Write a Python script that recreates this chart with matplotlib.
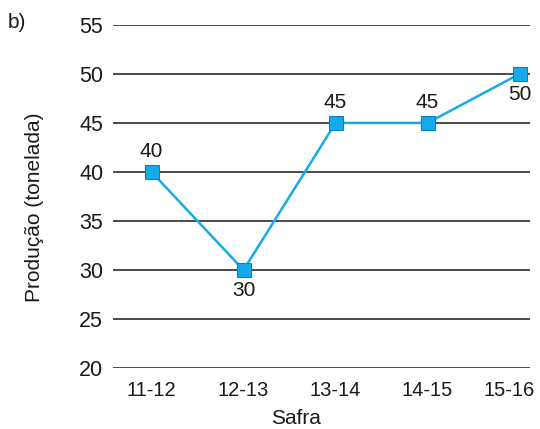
import matplotlib.pyplot as plt
import matplotlib.transforms as mtransforms

plt.rcParams["font.family"] = ["Liberation Sans", "DejaVu Sans"]

safras = ["11-12", "12-13", "13-14", "14-15", "15-16"]
producao = [40, 30, 45, 45, 50]
label_above = [True, False, True, True, False]
y_ticks = [20, 25, 30, 35, 40, 45, 50, 55]

LINE_COLOR = "#17ace6"
EDGE_COLOR = "#0a7fc2"
TEXT = "#1a1a1a"

fig = plt.figure(figsize=(5.4, 4.29), dpi=100)
ax = fig.add_axes([0.209, 0.142, 0.772, 0.800])

for y in y_ticks:
    ax.axhline(y, color=TEXT, linewidth=1.1, zorder=1)

x = list(range(len(safras)))
ax.plot(x, producao, color=LINE_COLOR, linewidth=1.8, marker="s", markersize=10,
        markerfacecolor="#14aaec", markeredgecolor=EDGE_COLOR, markeredgewidth=0.8, zorder=3)

for xi, val, above in zip(x, producao, label_above):
    offset = 15 if above else -15
    ax.annotate(str(val), (xi, val), xytext=(0, offset), textcoords="offset points",
                ha="center", va="center", fontsize=15, color=TEXT)

ax.set_xlim(-0.42, 4.11)
ax.set_ylim(20, 55)
ax.set_xticks(x)
ax.set_xticklabels(safras)
ax.set_yticks(y_ticks)
for side in ["left", "right", "top", "bottom"]:
    ax.spines[side].set_visible(False)
ax.tick_params(length=0, colors=TEXT)
ax.tick_params(axis="y", pad=7, labelsize=15.5)
ax.tick_params(axis="x", pad=9, labelsize=14.5)

# last tick label sits a little left of its point in the reference
last = ax.get_xticklabels()[-1]
last.set_transform(last.get_transform() + mtransforms.ScaledTranslation(-10 / 100, 0, fig.dpi_scale_trans))

fig.text(296 / 540, 1 - 419 / 429, "Safra", fontsize=15, color=TEXT, ha="center", va="center")
fig.text(35 / 540, 1 - 207 / 429, "Produção (tonelada)", fontsize=15, color=TEXT,
         ha="center", va="center", rotation=90)
fig.text(17 / 540, 1 - 23 / 429, "b)", fontsize=15, color=TEXT, ha="center", va="center")

fig.savefig("out.png", dpi=100)
